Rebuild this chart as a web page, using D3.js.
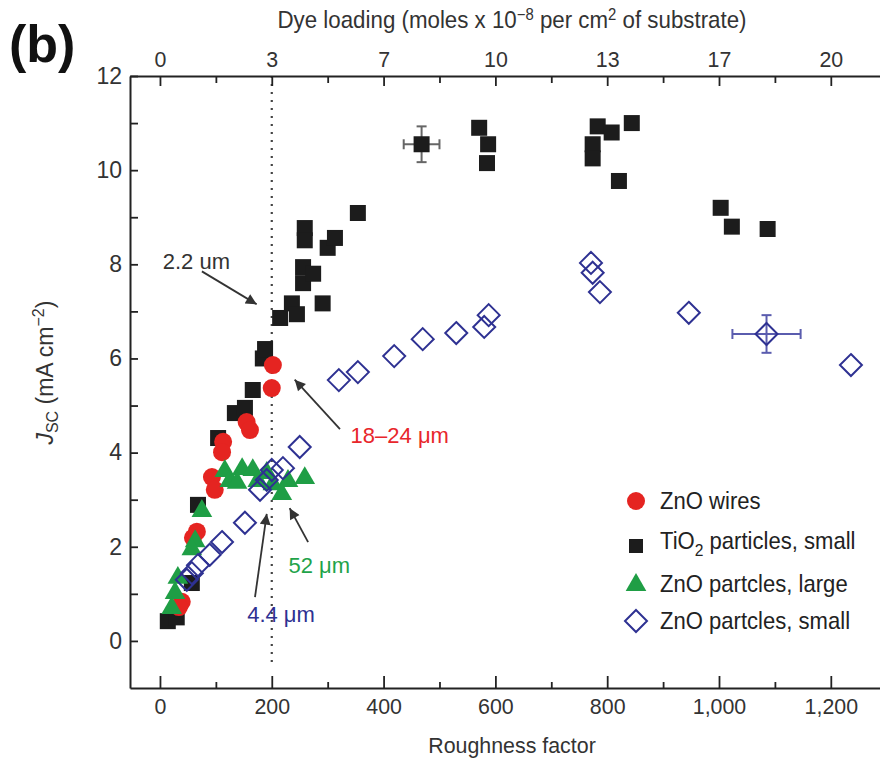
<!DOCTYPE html>
<html><head><meta charset="utf-8">
<script src="https://cdn.jsdelivr.net/npm/d3@7"></script>
<style>
html,body{margin:0;padding:0;background:#fff;}
svg{display:block;}
</style></head>
<body>
<svg id="chart" width="880" height="760"></svg>
<script>
// ---------- data ----------
const roughnessMajor = [0, 200, 400, 600, 800, 1000, 1200];
const roughnessMinor = [100, 300, 500, 700, 900, 1100];
const dyeLabels = ["0", "3", "7", "10", "13", "17", "20"];
const yMajor = [0, 2, 4, 6, 8, 10, 12];
const yMinor = [1, 3, 5, 7, 9, 11];

const znoWires = [[200,5.37],[202,5.86],[155,4.65],[161,4.48],[113,4.23],[111,4.01],[93,3.48],[98,3.21],[66,2.32],[59,2.19],[39,0.83],[34,0.72]];
const tio2Small = [[14,0.42],[30,0.5],[57,1.23],[68,2.89],[104,4.31],[134,4.84],[152,4.95],[166,5.33],[184,6.0],[188,6.2],[215,6.86],[236,7.17],[245,6.94],[256,7.94],[256,7.6],[274,7.8],[259,8.77],[259,8.51],[300,8.35],[313,8.56],[291,7.17],[354,9.09],[468,10.55],[571,10.9],[587,10.55],[585,10.15],[774,10.55],[774,10.25],[783,10.93],[808,10.8],[844,11.0],[821,9.77],[1003,9.2],[1023,8.8],[1087,8.75]];
const znoLarge = [[116,3.63],[125,3.42],[147,3.67],[166,3.65],[191,3.59],[175,3.42],[202,3.35],[229,3.42],[259,3.48],[218,3.14],[138,3.38],[75,2.78],[63,2.14],[57,1.97],[32,1.36],[27,1.04],[21,0.72]];
const znoSmall = [[48,1.3],[57,1.44],[68,1.61],[89,1.83],[111,2.1],[152,2.51],[179,3.21],[191,3.42],[200,3.63],[220,3.67],[250,4.12],[320,5.54],[354,5.71],[419,6.05],[470,6.41],[530,6.54],[580,6.67],[588,6.92],[771,8.03],[774,7.82],[787,7.41],[946,6.97],[1085,6.52],[1236,5.86]];
// error bars: [x, y, xErr, yErr]
const tio2Err = [[468,10.55,32,0.38]];
const znoSmallErr = [[1085,6.52,61,0.4]];

const legendLabels = ["ZnO wires", "TiO2 particles, small", "ZnO partcles, large", "ZnO partcles, small"];

// annotations: text, color, text anchor point, arrow tail & tip (data units)
const annotations = [
  {text:"2.2 um", color:"#333", at:[5,7.9], tail:[75,7.85], tip:[173,7.15]},
  {text:"18\u201324 \u03bcm", color:"#e8262b", at:[341,4.2], tail:[322,4.5], tip:[241,5.55]},
  {text:"52 \u03bcm", color:"#1fa34a", at:[230,1.44], tail:[265,2.1], tip:[232,2.82]},
  {text:"4.4 \u03bcm", color:"#2e3192", at:[156,0.4], tail:[170,0.93], tip:[191,2.7]}
];

// ---------- setup ----------
const svg = d3.select("#chart");
const x = d3.scaleLinear().domain([-53.6, 1288]).range([130, 880]);
const y = d3.scaleLinear().domain([-1, 12]).range([688, 76]);

const sans = "'Liberation Sans',Arial,Helvetica,sans-serif";
const axisColor = "#222";
const colRed = "#e52421", colBlack = "#1c1c1c", colGreen = "#1f9e45", colBlue = "#2e3192";

const defs = svg.append("defs");
defs.append("marker").attr("id","arr").attr("viewBox","0 0 10 10").attr("refX",10).attr("refY",5)
  .attr("markerWidth",7).attr("markerHeight",6).attr("markerUnits","strokeWidth").attr("orient","auto")
  .append("path").attr("d","M0,0 L10,5 L0,10 z").attr("fill","#333");

// dotted line at roughness 200
svg.append("line").attr("x1",x(200)).attr("x2",x(200)).attr("y1",y(12)).attr("y2",y(-0.55))
  .attr("stroke","#444").attr("stroke-width",2.2).attr("stroke-dasharray","2,6");

// ---------- axes ----------
function styleAxis(g){
  g.selectAll("path.domain").attr("stroke",axisColor).attr("stroke-width",2);
  g.selectAll(".tick line").attr("stroke",axisColor).attr("stroke-width",1.8);
  g.selectAll(".tick text").attr("fill","#333");
}
const gB = svg.append("g").attr("transform",`translate(0,${y(-1)})`)
  .call(d3.axisBottom(x).tickValues(roughnessMajor).tickSize(-12).tickSizeOuter(0).tickPadding(10)
    .tickFormat(d3.format(",")));
gB.call(styleAxis);
gB.selectAll(".tick text").attr("font-family",sans).attr("font-size",23).attr("dy","0.71em")
  .attr("transform","scale(0.93,1)");
const gBm = svg.append("g").attr("transform",`translate(0,${y(-1)})`)
  .call(d3.axisBottom(x).tickValues(roughnessMinor).tickSize(-6).tickFormat(""));
gBm.call(styleAxis); gBm.select("path.domain").remove();

const gT = svg.append("g").attr("transform",`translate(0,${y(12)})`)
  .call(d3.axisTop(x).tickValues(roughnessMajor).tickSize(-10).tickSizeOuter(0).tickPadding(9)
    .tickFormat((d,i)=>dyeLabels[i]));
gT.call(styleAxis);
gT.selectAll(".tick text").attr("font-family",sans).attr("font-size",23).attr("transform","scale(0.93,1)");
const gTm = svg.append("g").attr("transform",`translate(0,${y(12)})`)
  .call(d3.axisTop(x).tickValues(roughnessMinor).tickSize(-7).tickFormat(""));
gTm.call(styleAxis); gTm.select("path.domain").remove();

const gL = svg.append("g").attr("transform",`translate(${x(-53.6)},0)`)
  .call(d3.axisLeft(y).tickValues(yMajor).tickSize(-8).tickSizeOuter(0).tickPadding(8));
gL.call(styleAxis);
gL.selectAll(".tick text").attr("font-family",sans).attr("font-size",23);
const gLm = svg.append("g").attr("transform",`translate(${x(-53.6)},0)`)
  .call(d3.axisLeft(y).tickValues(yMinor).tickSize(-8).tickFormat(""));
gLm.call(styleAxis); gLm.select("path.domain").remove();

// axis titles
svg.append("text").attr("transform","translate(512,753) scale(0.93,1)").attr("text-anchor","middle")
  .attr("font-family",sans).attr("font-size",23).attr("fill","#333").text("Roughness factor");

const tt = svg.append("text").attr("transform","translate(512,28) scale(0.93,1)").attr("text-anchor","middle")
  .attr("font-family",sans).attr("font-size",24).attr("fill","#333");
tt.append("tspan").text("Dye loading (moles x 10");
tt.append("tspan").attr("dy",-8).attr("font-size",16).text("\u22128");
tt.append("tspan").attr("dy",8).text(" per cm");
tt.append("tspan").attr("dy",-8).attr("font-size",16).text("2");
tt.append("tspan").attr("dy",8).text(" of substrate)");

const yl = svg.append("text").attr("transform",`translate(53,${y(5.7)}) rotate(-90)`).attr("text-anchor","middle")
  .attr("font-family",sans).attr("font-size",23).attr("fill","#333");
yl.append("tspan").attr("font-style","italic").text("J");
yl.append("tspan").attr("dy",5).attr("font-size",16).text("SC");
yl.append("tspan").attr("dy",-5).text(" (mA cm");
yl.append("tspan").attr("dy",-9).attr("font-size",16).text("\u22122");
yl.append("tspan").attr("dy",9).text(")");

svg.append("text").attr("x",9).attr("y",62).attr("font-family",sans).attr("font-weight","bold")
  .attr("font-size",52).attr("fill","#111").text("(b)");

// ---------- error bars ----------
function drawErr(data, color){
  const g = svg.append("g").attr("stroke",color).attr("stroke-width",2);
  data.forEach(([cx,cy,ex,ey])=>{
    g.append("line").attr("x1",x(cx-ex)).attr("x2",x(cx+ex)).attr("y1",y(cy)).attr("y2",y(cy));
    g.append("line").attr("x1",x(cx)).attr("x2",x(cx)).attr("y1",y(cy-ey)).attr("y2",y(cy+ey));
    [cx-ex,cx+ex].forEach(v=>g.append("line").attr("x1",x(v)).attr("x2",x(v)).attr("y1",y(cy)-5).attr("y2",y(cy)+5));
    [cy-ey,cy+ey].forEach(v=>g.append("line").attr("x1",x(cx)-5).attr("x2",x(cx)+5).attr("y1",y(v)).attr("y2",y(v)));
  });
}
drawErr(tio2Err, "#666");
drawErr(znoSmallErr, "#5a5cae");

// ---------- markers ----------
const sqSize = 16;
svg.append("g").selectAll("rect").data(tio2Small).join("rect")
  .attr("x",d=>x(d[0])-sqSize/2).attr("y",d=>y(d[1])-sqSize/2)
  .attr("width",sqSize).attr("height",sqSize).attr("fill",colBlack);

svg.append("g").selectAll("circle").data(znoWires).join("circle")
  .attr("cx",d=>x(d[0])).attr("cy",d=>y(d[1])).attr("r",9).attr("fill",colRed);

const tri = d3.symbol().type(d3.symbolTriangle).size(185);
svg.append("g").selectAll("path").data(znoLarge).join("path")
  .attr("d",tri).attr("transform",d=>`translate(${x(d[0])},${y(d[1])+1})`).attr("fill",colGreen);

const dia = "M0,-11 L11,0 L0,11 L-11,0 Z";
svg.append("g").selectAll("path").data(znoSmall).join("path")
  .attr("d",dia).attr("transform",d=>`translate(${x(d[0])},${y(d[1])})`)
  .attr("fill","none").attr("stroke",colBlue).attr("stroke-width",2);

// ---------- annotations ----------
annotations.forEach(a=>{
  svg.append("line").attr("x1",x(a.tail[0])).attr("y1",y(a.tail[1])).attr("x2",x(a.tip[0])).attr("y2",y(a.tip[1]))
    .attr("stroke","#333").attr("stroke-width",1.8).attr("marker-end","url(#arr)");
  svg.append("text").attr("x",x(a.at[0])).attr("y",y(a.at[1])).attr("font-family",sans)
    .attr("font-size",22).attr("fill",a.color).text(a.text);
});

// ---------- legend ----------
const lg = svg.append("g").attr("transform","translate(636,0)");
const ly = [501, 546, 584, 621];
const items = lg.selectAll("g").data(legendLabels).join("g").attr("transform",(d,i)=>`translate(0,${ly[i]})`);
items.each(function(d,i){
  const g = d3.select(this);
  if(i===0) g.append("circle").attr("r",9).attr("fill",colRed);
  if(i===1) g.append("rect").attr("x",-7).attr("y",-7).attr("width",14).attr("height",14).attr("fill",colBlack);
  if(i===2) g.append("path").attr("d",tri).attr("transform","translate(0,1)").attr("fill",colGreen);
  if(i===3) g.append("path").attr("d",dia).attr("fill","none").attr("stroke",colBlue).attr("stroke-width",2);
  const t = g.append("text").attr("transform","translate(24,8) scale(0.92,1)").attr("font-family",sans)
    .attr("font-size",24).attr("fill","#222");
  if(d.startsWith("TiO2")){
    t.attr("transform","translate(24,3) scale(0.92,1)");
    t.append("tspan").text("TiO");
    t.append("tspan").attr("dy",7).attr("font-size",17).text("2");
    t.append("tspan").attr("dy",-7).text(d.slice(4));
  } else t.text(d);
});
</script>
</body></html>
